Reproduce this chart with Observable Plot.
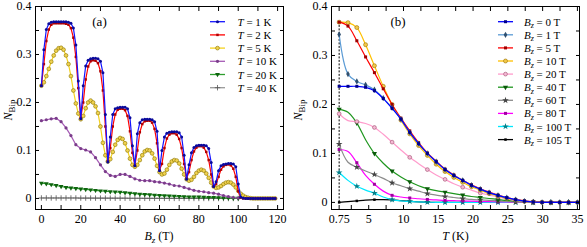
<!DOCTYPE html>
<html><head><meta charset="utf-8">
<script src="https://cdn.jsdelivr.net/npm/d3@7"></script>
<script src="https://cdn.jsdelivr.net/npm/@observablehq/plot@0.6"></script>
<style>
body{margin:0;background:#fff;}
#wrap{display:flex;width:587px;height:247px;overflow:hidden;}
svg{display:block;}
</style></head><body><div id="wrap"></div>
<script>
// ---------- Panel (a) data: N_Bip vs B_z at several temperatures ----------
const bFine = [0,1.25,2.5,3.75,5,6.25,7.5,8.75,10,11.25,12.5,13.75,15,16.25,17.5,18.75,20,21.25,22.5,23.75,25,26.25,27.5,28.75,30,31.25,32.5,33.75,35,36.25,37.5,38.75,40,41.25,42.5,43.75,45,46.25,47.5,48.75,50,51.25,52.5,53.75,55,56.25,57.5,58.75,60,61.25,62.5,63.75,65,66.25,67.5,68.75,70,71.25,72.5,73.75,75,76.25,77.5,78.75,80,81.25,82.5,83.75,85,86.25,87.5,88.75,90,91.25,92.5,93.75,95,96.25,97.5,98.75,100,101.25,102.5,103.75,105,106.25,107.5,108.75,110,111.25,112.5,113.75,115,116.25,117.5,118.75];
const nT1 = [0.235,0.31,0.352,0.364,0.367,0.368,0.368,0.368,0.368,0.368,0.368,0.367,0.365,0.355,0.32,0.245,0.166,0.235,0.276,0.288,0.291,0.292,0.292,0.291,0.286,0.262,0.175,0.076,0.128,0.175,0.187,0.189,0.19,0.19,0.19,0.187,0.168,0.11,0.068,0.135,0.158,0.164,0.165,0.165,0.165,0.164,0.16,0.14,0.058,0.1,0.128,0.136,0.138,0.139,0.139,0.139,0.137,0.128,0.09,0.04,0.07,0.095,0.106,0.11,0.111,0.111,0.111,0.11,0.104,0.075,0.025,0.035,0.058,0.068,0.071,0.072,0.073,0.073,0.072,0.066,0.03,0.003,0.001,0,0,0,0,0,0,0,0,0,0,0,0,0];
const nT2 = [0.235,0.28,0.328,0.352,0.362,0.365,0.365,0.365,0.365,0.365,0.364,0.362,0.355,0.335,0.295,0.23,0.168,0.2,0.248,0.275,0.286,0.288,0.287,0.282,0.265,0.225,0.15,0.078,0.105,0.15,0.175,0.185,0.187,0.187,0.184,0.172,0.14,0.095,0.069,0.1,0.138,0.155,0.161,0.162,0.162,0.158,0.145,0.115,0.06,0.072,0.105,0.125,0.133,0.136,0.136,0.133,0.124,0.105,0.072,0.042,0.055,0.08,0.098,0.106,0.109,0.109,0.106,0.097,0.08,0.05,0.025,0.03,0.045,0.06,0.067,0.07,0.071,0.069,0.062,0.045,0.015,0.002,0,0,0,0,0,0,0,0,0,0,0,0,0,0];
const nT5 = [0.235,0.242,0.255,0.27,0.285,0.298,0.308,0.313,0.314,0.31,0.298,0.28,0.255,0.225,0.198,0.177,0.165,0.172,0.188,0.2,0.204,0.2,0.192,0.178,0.15,0.116,0.09,0.077,0.082,0.097,0.112,0.122,0.126,0.124,0.115,0.1,0.083,0.07,0.066,0.07,0.08,0.09,0.098,0.101,0.1,0.094,0.083,0.068,0.055,0.05,0.052,0.06,0.07,0.077,0.08,0.079,0.073,0.062,0.05,0.04,0.037,0.039,0.045,0.053,0.058,0.06,0.058,0.052,0.043,0.033,0.025,0.022,0.023,0.026,0.03,0.033,0.034,0.033,0.029,0.023,0.016,0.01,0.006,0.003,0.0015,0.0005,0,0,0,0,0,0,0,0,0,0];
const bCoarse = [0,2.5,5,7.5,10,12.5,15,17.5,20,22.5,25,27.5,30,32.5,35,37.5,40,42.5,45,47.5,50,52.5,55,57.5,60,62.5,65,67.5,70,72.5,75,77.5,80,82.5,85,87.5,90,92.5,95,97.5,100];
const nT10 = [0.162,0.164,0.166,0.167,0.16,0.147,0.131,0.112,0.104,0.101,0.097,0.085,0.07,0.056,0.048,0.046,0.05,0.05,0.046,0.041,0.038,0.037,0.037,0.035,0.034,0.032,0.03,0.027,0.026,0.023,0.02,0.017,0.015,0.014,0.012,0.011,0.009,0.006,0.004,0.002,0.001];
const nT20 = [0.032,0.031,0.029,0.027,0.025,0.023,0.022,0.021,0.02,0.019,0.018,0.017,0.016,0.015,0.014,0.0135,0.013,0.012,0.011,0.01,0.009,0.0085,0.008,0.007,0.0065,0.006,0.0055,0.005,0.0045,0.004,0.0035,0.003,0.003,0.0025,0.002,0.002,0.0015,0.001,0.001,0.0005,0.0005];
const nT40 = [0.001,0.001,0.001,0.001,0.001,0.001,0.001,0.001,0.0008,0.0008,0.0008,0.0007,0.0007,0.0006,0.0006,0.0005,0.0005,0.0005,0.0004,0.0004,0.0004,0.0003,0.0003,0.0003,0.0003,0.0002,0.0002,0.0002,0.0002,0.0002,0.0001,0.0001,0.0001,0.0001,0.0001,0.0001,0,0,0,0,0];
const tempLabels = ["1","2","5","10","20","40"];
const xLabelsA = [0,20,40,60,80,100,120];
const xTicksA = [0,10,20,30,40,50,60,70,80,90,100,110,120];

// ---------- Panel (b) data: N_Bip vs T at several fields ----------
const tGrid = [0.75,2.02,3.29,4.55,5.82,7.09,8.36,9.63,10.9,12.17,13.43,14.7,15.97,17.24,18.51,19.77,21.04,22.31,23.58,24.85,26.12,27.38,28.65,29.92,31.19,32.46,33.73,35];
const nB0 = [0.237,0.237,0.237,0.235,0.228,0.212,0.192,0.17,0.143,0.12,0.1,0.083,0.067,0.055,0.045,0.035,0.027,0.02,0.0144,0.0096,0.0055,0.0027,0.0008,0.0002,0,0,0,0];
const nB1 = [0.343,0.262,0.247,0.24,0.23,0.213,0.193,0.17,0.143,0.12,0.1,0.083,0.067,0.055,0.045,0.035,0.027,0.02,0.0144,0.0096,0.0055,0.0027,0.0008,0.0002,0,0,0,0];
const nB5 = [0.368,0.36,0.33,0.297,0.265,0.232,0.2,0.172,0.146,0.122,0.101,0.084,0.068,0.056,0.045,0.036,0.028,0.021,0.015,0.01,0.006,0.003,0.001,0.0003,0,0,0,0];
const nB10 = [0.368,0.367,0.357,0.322,0.279,0.237,0.2,0.168,0.14,0.116,0.096,0.078,0.063,0.051,0.041,0.032,0.025,0.018,0.013,0.008,0.005,0.002,0.0008,0.0002,0,0,0,0];
const nB20 = [0.181,0.167,0.165,0.161,0.153,0.139,0.123,0.107,0.092,0.079,0.067,0.056,0.047,0.038,0.031,0.025,0.019,0.015,0.011,0.007,0.004,0.002,0.001,0,0,0,0,0];
const nB40 = [0.19,0.184,0.162,0.128,0.1,0.08,0.064,0.052,0.042,0.034,0.028,0.024,0.021,0.018,0.015,0.012,0.01,0.008,0.006,0.004,0.003,0.002,0.001,0.0005,0,0,0,0];
const nB60 = [0.119,0.082,0.072,0.064,0.057,0.049,0.04,0.034,0.028,0.023,0.018,0.015,0.012,0.01,0.008,0.006,0.005,0.004,0.003,0.002,0.001,0.0005,0,0,0,0,0,0];
const nB80 = [0.108,0.104,0.081,0.055,0.037,0.023,0.0144,0.011,0.009,0.0075,0.006,0.005,0.004,0.0035,0.003,0.0025,0.002,0.0015,0.001,0.0008,0.0005,0,0,0,0,0,0,0];
const nB100 = [0.061,0.045,0.033,0.025,0.019,0.011,0.0055,0.003,0.002,0.001,0.0005,0,0,0,0,0,0,0,0,0,0,0,0,0,0,0,0,0];
const nB105 = [0,0.0015,0.003,0.0045,0.0055,0.0055,0.005,0.0035,0.002,0.001,0.0005,0,0,0,0,0,0,0,0,0,0,0,0,0,0,0,0,0];
const fieldLabels = ["0","1","5","10","20","40","60","80","100","105"];
const xLabelsB = [0.75,5,10,15,20,25,30,35];
const xTicksB = [0.75,2.5,5,7.5,10,12.5,15,17.5,20,22.5,25,27.5,30,32.5,35];
const yLabels = [0,0.1,0.2,0.3,0.4];
const yTicks = [0,0.05,0.1,0.15,0.2,0.25,0.3,0.35,0.4];

// ---------- styles ----------
const stylesA = [
  {line:"#1414ff", fill:"#0a0a9a", stroke:"none", symbol:"circle", r:1.5},
  {line:"#ff0000", fill:"#b00000", stroke:"none", symbol:"square", r:1.4},
  {line:"#f5d21e", fill:"#f0d250", stroke:"#8a7400", symbol:"circle", r:1.9, sw:0.6},
  {line:"#a55ab5", fill:"#7a3d8a", stroke:"none", symbol:"circle", r:1.6},
  {line:"#2e9e2e", fill:"#0e640e", stroke:"none", symbol:"triangle", r:1.8, rotate:180},
  {line:"#999999", fill:"none", stroke:"#555555", symbol:"plus", r:1.9, sw:0.8}
];
const stylesB = [
  {line:"#0000ff", fill:"#00008b", stroke:"none", symbol:"square", r:1.7},
  {line:"#5b9bd5", fill:"#2f4f6f", stroke:"none", symbol:"diamond", r:1.9},
  {line:"#ff0000", fill:"#a00000", stroke:"none", symbol:"square", r:1.7},
  {line:"#ffc000", fill:"#f2c84a", stroke:"#9a7000", symbol:"circle", r:2.0, sw:0.6},
  {line:"#ff9ccc", fill:"#f4b8d4", stroke:"#a0506e", symbol:"circle", r:1.9, sw:0.6},
  {line:"#1e961e", fill:"#0a5a0a", stroke:"none", symbol:"triangle", r:1.9, rotate:180},
  {line:"#8c8c8c", fill:"#444444", stroke:"none", symbol:"star", r:2.1},
  {line:"#ff00ff", fill:"#a000a0", stroke:"none", symbol:"square", r:1.7},
  {line:"#00e8ff", fill:"#00808a", stroke:"none", symbol:"star", r:2.1},
  {line:"#000000", fill:"#000000", stroke:"none", symbol:"square", r:1.4}
];

const FONT = "'Liberation Serif', 'Times New Roman', serif";
const seriesA = [
  {x:bFine, y:nT1}, {x:bFine, y:nT2}, {x:bFine, y:nT5},
  {x:bCoarse, y:nT10}, {x:bCoarse, y:nT20}, {x:bCoarse, y:nT40}
].map((s,i)=>({...s, st:stylesA[i], every:1}));
const ysB = [nB0,nB1,nB5,nB10,nB20,nB40,nB60,nB80,nB100,nB105];
const seriesB = ysB.map((y,i)=>({x:tGrid, y, st:stylesB[i], every: i>=4 ? 2 : 1}));

function seriesMarks(series, curve) {
  const marks = [];
  for (let k = series.length - 1; k >= 0; k--) {
    const s = series[k];
    const rows = s.x.map((x,i)=>({x, y:s.y[i], i}));
    marks.push(Plot.line(rows, {x:"x", y:"y", stroke:s.st.line, strokeWidth:1.2, curve}));
    marks.push(Plot.dot(rows.filter(d => d.i % s.every === 0), {
      x:"x", y:"y", symbol:s.st.symbol, r:s.st.r, fill:s.st.fill,
      stroke:s.st.stroke, strokeWidth:s.st.sw || 0, rotate:s.st.rotate || 0
    }));
  }
  return marks;
}
function axes(xLabels, xTicks, xFmt) {
  const blank = () => "";
  return [
    Plot.axisX(xLabels, {anchor:"bottom", tickSize:0, tickPadding:5, label:null, tickFormat:xFmt}),
    Plot.axisX(xTicks, {anchor:"bottom", tickSize:-4, tickFormat:blank, label:null}),
    Plot.axisX(xTicks, {anchor:"top", tickSize:-4, tickFormat:blank, label:null}),
    Plot.axisY(yLabels, {anchor:"left", tickSize:0, tickPadding:4, label:null, tickFormat:d => d === 0 ? "0" : d.toFixed(1)}),
    Plot.axisY(yTicks, {anchor:"left", tickSize:-4, tickFormat:blank, label:null}),
    Plot.axisY(yTicks, {anchor:"right", tickSize:-4, tickFormat:blank, label:null})
  ];
}
const plotStyle = {fontFamily:FONT, fontSize:"12px", color:"black", background:"white", overflow:"visible"};

const plotA = Plot.plot({
  width:290, height:247, marginLeft:35, marginRight:7, marginTop:6, marginBottom:38,
  x:{domain:[-3,123]}, y:{domain:[-0.023,0.4]}, style:plotStyle,
  marks:[ ...seriesMarks(seriesA, "linear"), ...axes(xLabelsA, xTicksA, d => d), Plot.frame({stroke:"black", strokeWidth:1}) ]
});
const plotB = Plot.plot({
  width:297, height:247, marginLeft:41, marginRight:8, marginTop:6, marginBottom:38,
  x:{domain:[-0.35,35.3]}, y:{domain:[-0.0145,0.4]}, style:plotStyle,
  marks:[
    Plot.ruleX([tGrid[0]], {y1:0, y2:nB5[0], stroke:"black", strokeWidth:1, strokeDasharray:"2,1.5"}),
    ...seriesMarks(seriesB, "catmull-rom"), ...axes(xLabelsB, xTicksB, d => String(d)), Plot.frame({stroke:"black", strokeWidth:1})
  ]
});
const wrap = document.getElementById("wrap");
wrap.appendChild(plotA); wrap.appendChild(plotB);

const symMap = {circle:d3.symbolCircle, square:d3.symbolSquare, diamond:d3.symbolDiamond, triangle:d3.symbolTriangle, plus:d3.symbolPlus, star:d3.symbolStar};

function addLegend(svg, styles, labelFn, lx0, lx1, tx, y0, dy) {
  const g = svg.append("g").attr("font-family", FONT).attr("font-size", 11).attr("text-anchor", "start");
  styles.forEach((st, i) => {
    const y = y0 + i*dy;
    g.append("line").attr("x1", lx0).attr("x2", lx1).attr("y1", y).attr("y2", y).attr("stroke", st.line).attr("stroke-width", 1.3);
    g.append("path").attr("d", d3.symbol(symMap[st.symbol], Math.PI*st.r*st.r)())
      .attr("transform", `translate(${(lx0+lx1)/2},${y}) rotate(${st.rotate||0})`)
      .attr("fill", st.fill).attr("stroke", st.stroke).attr("stroke-width", st.sw || 0);
    const t = g.append("text").attr("x", tx).attr("y", y + 4).attr("text-anchor", "start");
    labelFn(t, i);
  });
}
function addText(svg, x, y, parts, opts = {}) {
  const t = svg.append("text").attr("x", x).attr("y", y).attr("font-family", FONT)
    .attr("font-size", opts.size || 12).attr("text-anchor", opts.anchor || "middle");
  if (opts.transform) t.attr("transform", opts.transform);
  parts(t);
  return t;
}

const sA = d3.select(plotA), sB = d3.select(plotB);
addLegend(sA, stylesA, (t, i) => {
  t.append("tspan").attr("font-style", "italic").text("T");
  t.append("tspan").text(" = " + tempLabels[i] + " K");
}, 210, 225, 237.5, 21.7, 13.2);
addLegend(sB, stylesB, (t, i) => {
  t.append("tspan").attr("font-style", "italic").text("B");
  t.append("tspan").attr("font-style", "italic").attr("font-size", 8).attr("dy", 2.5).text("z");
  t.append("tspan").attr("dy", -2.5).text(" = " + fieldLabels[i] + " T");
}, 208, 223, 234, 21.7, 13.1);

// panel tags
addText(sA, 99.5, 26, t => t.text("(a)"), {size:13});
addText(sB, 108, 26, t => t.text("(b)"), {size:13});
// axis titles
addText(sA, 159, 240, t => {
  t.append("tspan").attr("font-style", "italic").text("B");
  t.append("tspan").attr("font-style", "italic").attr("font-size", 9).attr("dy", 3).text("z");
  t.append("tspan").attr("dy", -3).text(" (T)");
});
addText(sB, 165.5, 240, t => {
  t.append("tspan").attr("font-style", "italic").text("T");
  t.append("tspan").text(" (K)");
});
function yTitle(svg, x) {
  addText(svg, 0, 0, t => {
    t.append("tspan").attr("font-style", "italic").text("N");
    t.append("tspan").attr("font-size", 9).attr("dy", 3).text("Bip");
  }, {transform:`translate(${x},110) rotate(-90)`});
}
yTitle(sA, 11.5);
yTitle(sB, 11.5);
</script></body></html>
